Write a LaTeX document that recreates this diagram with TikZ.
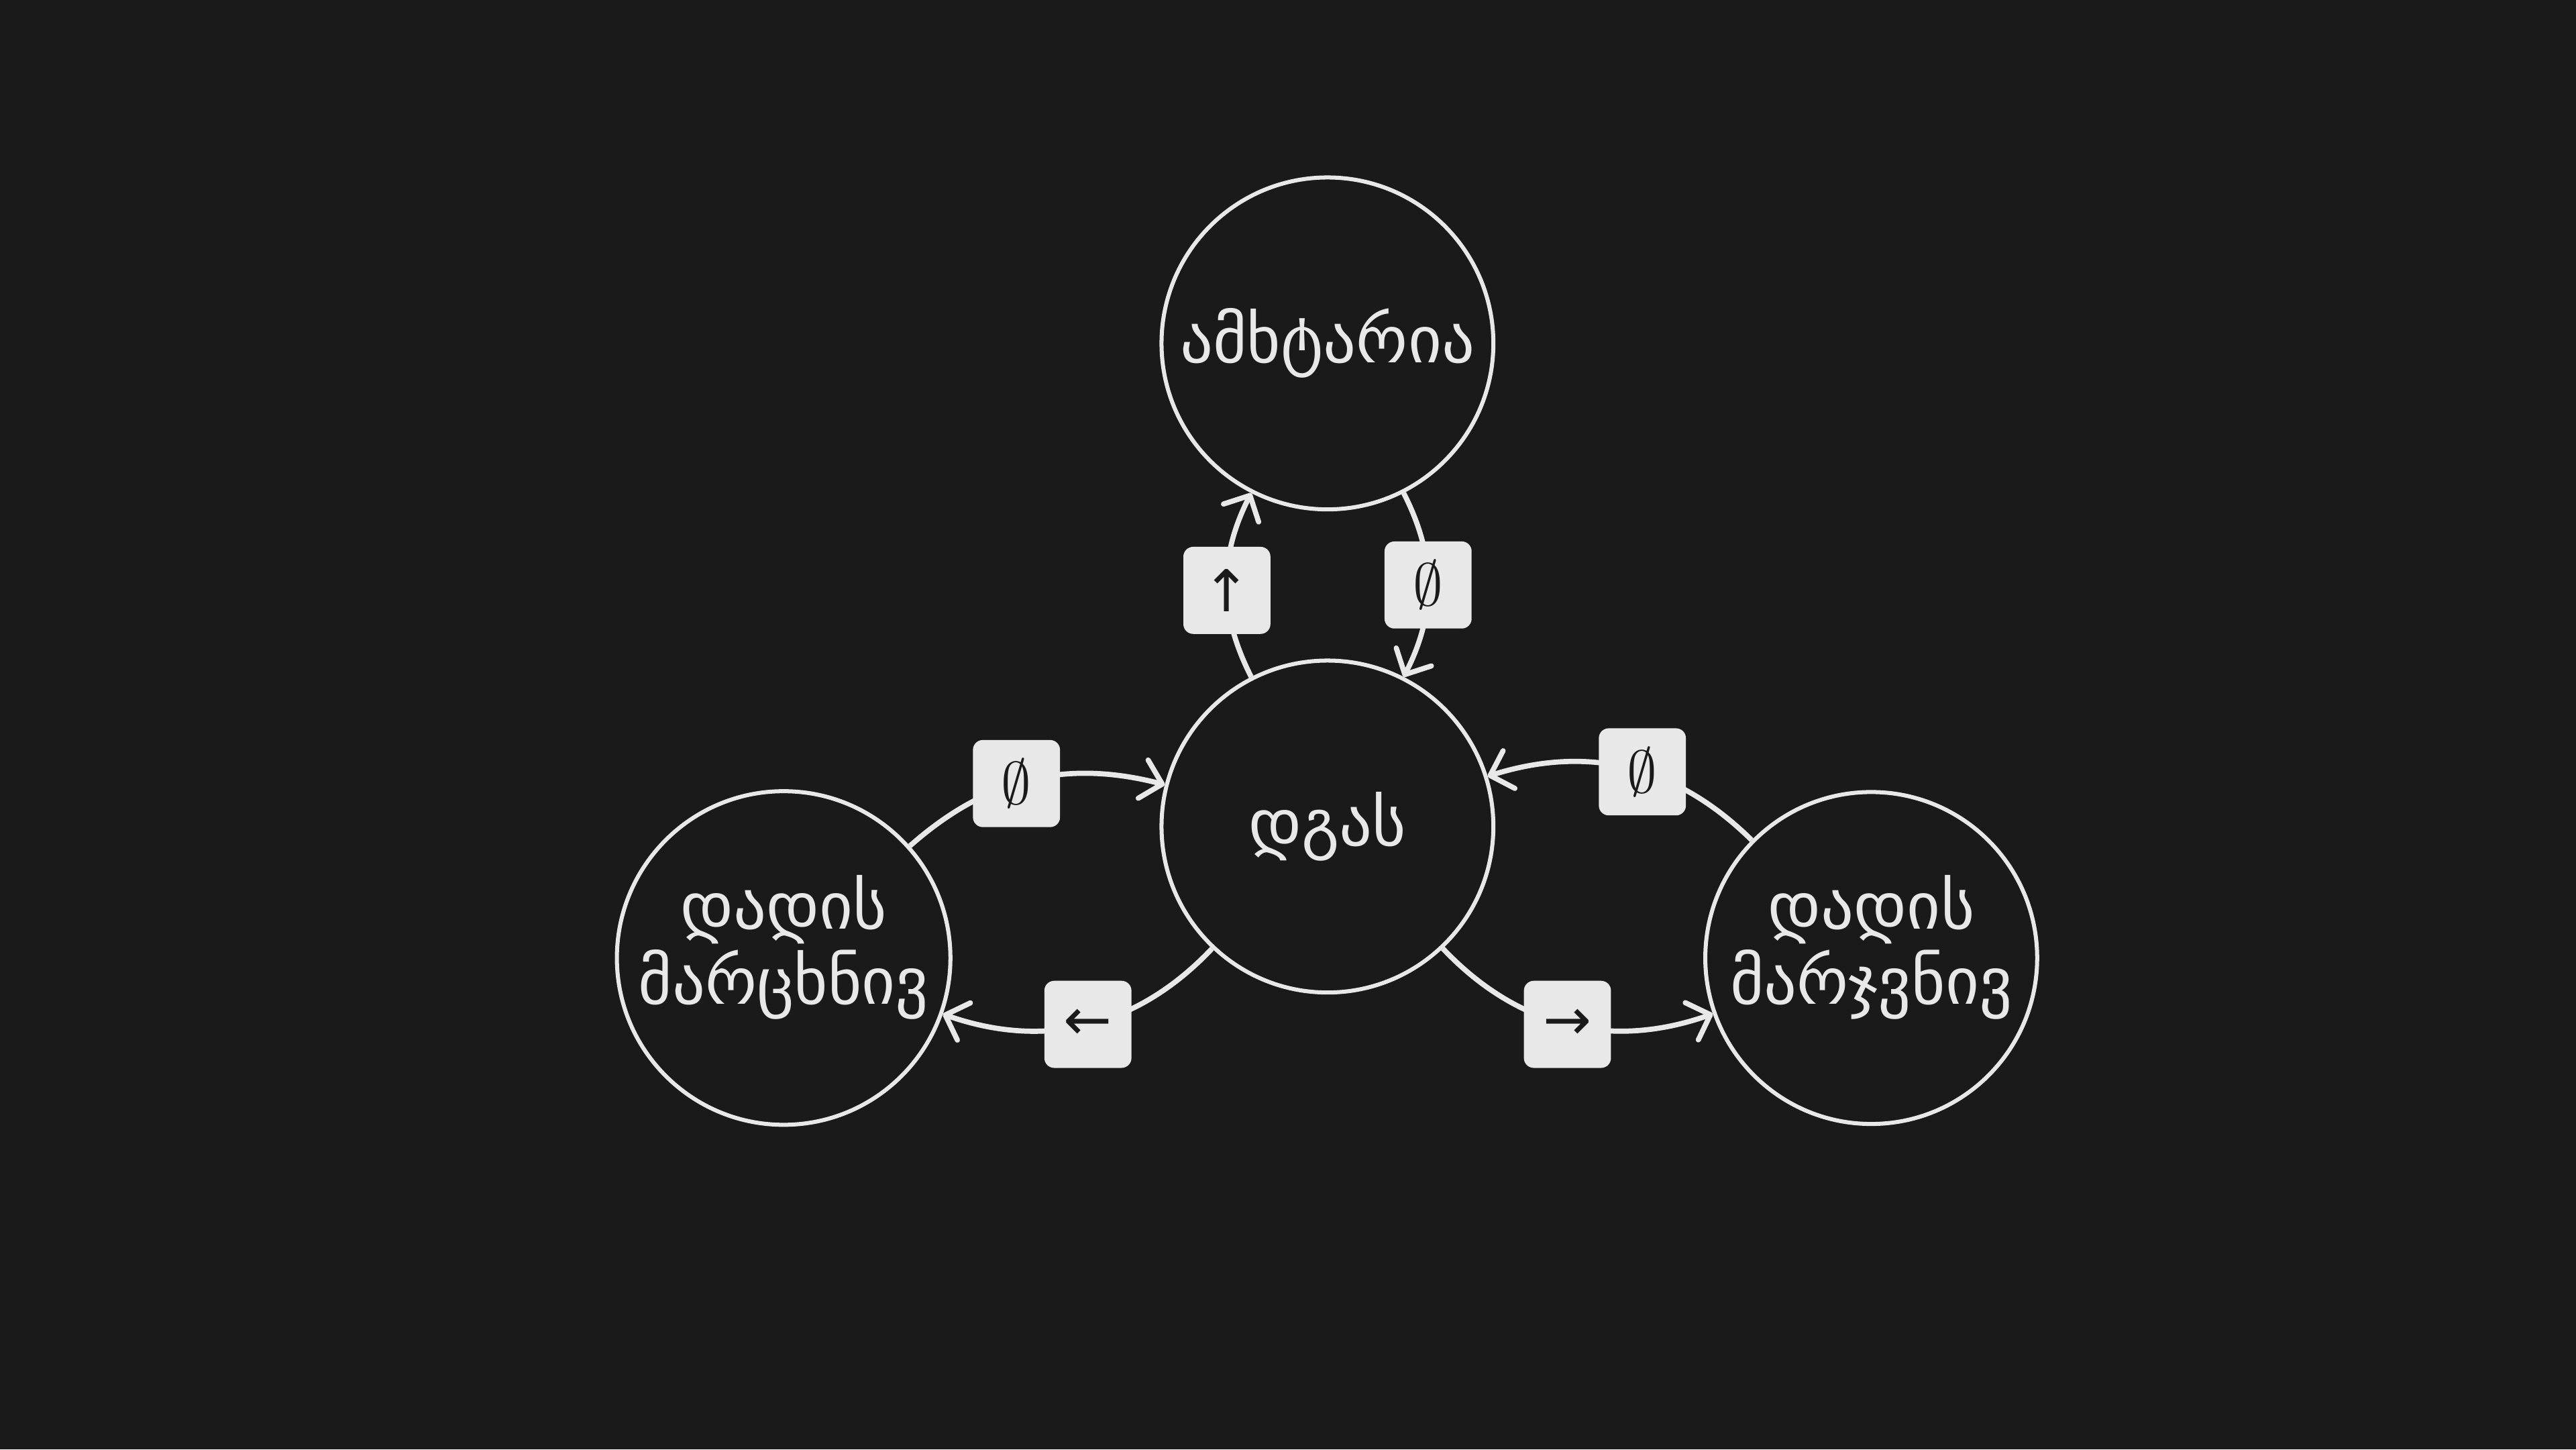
\documentclass[tikz,border=0pt]{standalone}
\usepackage{fontspec}
\setmainfont{DejaVu Sans}
\usetikzlibrary{arrows.meta}
\definecolor{bg}{HTML}{1A1A1A}
\definecolor{fg}{HTML}{E8E8E8}

\begin{document}
\begin{tikzpicture}
			\fill[bg] (0, 0) rectangle (31.36, 17.64);
			\useasboundingbox (0, 0) rectangle (31.36, 17.64);
			\tikzstyle{state}=[draw=fg, circle, line width=1.4pt, minimum size=4.04cm, inner sep=0pt, align=center, text=fg, font=\fontsize{22.5}{26}\selectfont]
			\tikzstyle{lbl}=[fill=fg, rounded corners=0.12cm, minimum size=1.06cm, inner sep=0pt, text=bg, font=\fontsize{20}{22}\selectfont]
			\tikzstyle{move}=[draw=fg, line width=1.8pt, -{Straight Barb[length=0.24cm, width=0.48cm, round]}]
			\node[state] (jump) at (16.16, 13.46) {ამხტარია};
			\node[state] (stand) at (16.16, 7.58) {დგას};
			\node[state] (left) at (9.54, 5.98) {დადის\\მარცხნივ\rule[-0.45cm]{0pt}{0pt}};
			\node[state] (right) at (22.78, 5.98) {დადის\\მარჯვნივ\rule[-0.45cm]{0pt}{0pt}};

			\draw[move] (stand) to[bend left=27] node[lbl, pos=0.47] {↑} (jump);
			\draw[move] (jump) to[bend left=27] node[lbl] {$\emptyset$} (stand);
			\draw[move] (left) to[bend left=28] node[lbl, pos=0.45] {$\emptyset$} (stand);
			\draw[move] (stand) to[bend left=33] node[lbl] {←} (left);
			\draw[move] (right) to[bend right=31] node[lbl, pos=0.45] {$\emptyset$} (stand);
			\draw[move] (stand) to[bend right=33] node[lbl] {→} (right);
		\end{tikzpicture}
\end{document}
